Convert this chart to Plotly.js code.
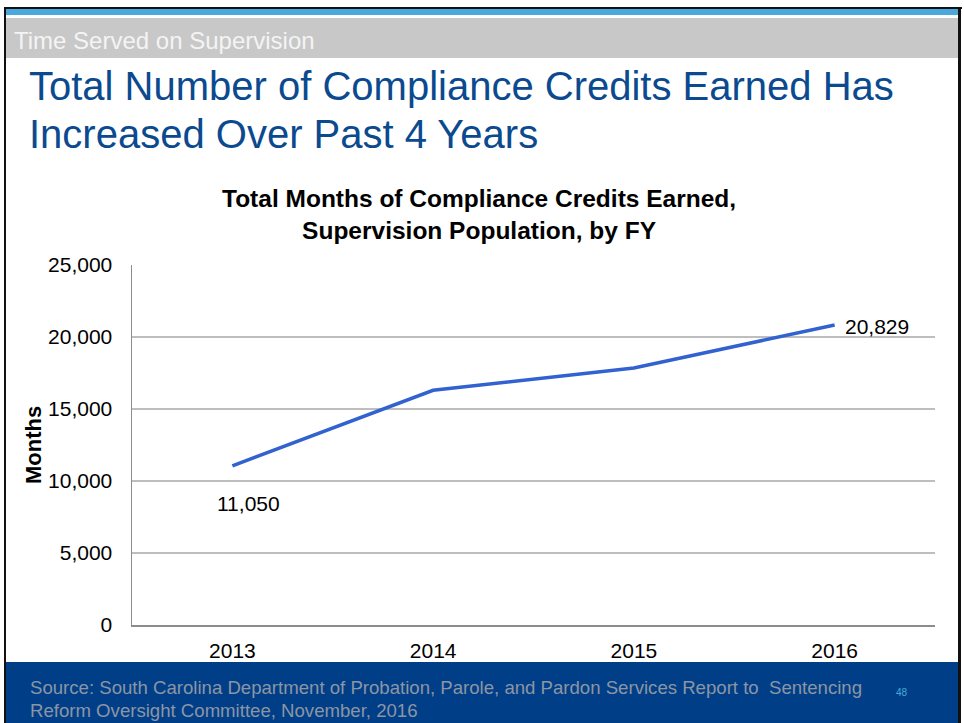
<!DOCTYPE html>
<html>
<head>
<meta charset="utf-8">
<script src="https://cdn.plot.ly/plotly-3.0.1.min.js"></script>
<style>
  html, body { margin: 0; padding: 0; background: #ffffff; }
  #slide { position: relative; width: 964px; height: 723px; overflow: hidden; background: #ffffff;
           font-family: "Liberation Sans", Arial, sans-serif; }
  .abs { position: absolute; }
  #chart { position: absolute; left: 0; top: 0; width: 964px; height: 723px; z-index: 2; }
</style>
</head>
<body>
<div id="slide">
  <div class="abs" style="left:4px; top:7px; width:958px; height:2px; background:#111;"></div>
  <div class="abs" style="left:4px; top:7px; width:2px; height:716px; background:#111;"></div>
  <div class="abs" style="left:958px; top:7px; width:3px; height:716px; background:#111;"></div>
  <div class="abs" style="left:6px; top:9px; width:952px; height:6px; background:#4AA8DC;"></div>
  <div class="abs" style="left:6px; top:18px; width:952px; height:40px; background:#C8C8C8;"></div>
  <div class="abs" style="left:14px; top:27px; font-size:24px; line-height:28px; color:#F4F4F4; white-space:nowrap;">Time Served on Supervision</div>
  <div class="abs" style="left:29px; top:62px; font-size:40px; line-height:48px; color:#0B4A8F; white-space:nowrap;">Total Number of Compliance Credits Earned Has<br>Increased Over Past 4 Years</div>
  <div class="abs" style="left:6px; top:662px; width:952px; height:61px; background:#003F87;"></div>
  <div class="abs" style="left:30px; top:676px; font-size:18.6px; line-height:23px; color:#8C95A5; white-space:nowrap;">Source: South Carolina Department of Probation, Parole, and Pardon Services Report to&nbsp; Sentencing<br>Reform Oversight Committee, November, 2016</div>
  <div class="abs" style="left:896px; top:687px; font-size:10px; line-height:12px; color:#4AA8DC;">48</div>
  <div id="chart"></div>
</div>
<script>
const years = ['2013', '2014', '2015', '2016'];
const months = [11050, 16300, 17850, 20829];
const yTicks = [0, 5000, 10000, 15000, 20000, 25000];
const chartTitleLines = ['Total Months of Compliance Credits Earned,', 'Supervision Population, by FY'];
const yTitle = 'Months';
const labelledPoints = [0, 3];

const font = '"Liberation Sans", Arial, sans-serif';
const fmt = v => v.toLocaleString('en-US');

const trace = {
  x: years, y: months, type: 'scatter', mode: 'lines',
  line: { color: '#3262D0', width: 3.5 },
  hoverinfo: 'skip'
};

const annotations = [
  { text: chartTitleLines.map(s => '<b>' + s + '</b>').join('<br>'),
    xref: 'paper', yref: 'paper', x: 0.432, y: 1.139,
    xanchor: 'center', yanchor: 'middle', showarrow: false,
    font: { family: font, size: 24.5, color: '#000' } },
  { text: '<b>' + yTitle + '</b>', xref: 'paper', yref: 'paper', x: (33 - 132) / 803, y: 0.5,
    xanchor: 'center', yanchor: 'middle', textangle: -90, showarrow: false,
    font: { family: font, size: 22, color: '#000' } }
];
labelledPoints.forEach(i => {
  const first = i === 0;
  annotations.push({
    text: fmt(months[i]), x: i, y: months[i], xref: 'x', yref: 'y',
    showarrow: false,
    xanchor: first ? 'center' : 'left', yanchor: 'middle',
    xshift: first ? 16 : 8, yshift: first ? -38 : -1,
    font: { family: font, size: 21, color: '#000' }
  });
});

const layout = {
  width: 964, height: 723,
  margin: { l: 132, r: 29, t: 265, b: 98, pad: 0 },
  paper_bgcolor: 'rgba(0,0,0,0)', plot_bgcolor: 'rgba(0,0,0,0)',
  showlegend: false,
  font: { family: font, size: 21, color: '#000' },
  xaxis: {
    type: 'category', categoryorder: 'array', categoryarray: years,
    range: [-0.5, 3.5], showgrid: false, zeroline: false,
    showline: true, linecolor: '#8C8C8C', linewidth: 1.5,
    ticks: '', ticklabelstandoff: 6,
    tickfont: { family: font, size: 21, color: '#000' }
  },
  yaxis: {
    range: [0, 25000], tickvals: yTicks, ticktext: yTicks.map(fmt),
    showgrid: true, gridcolor: '#BEBEBE', gridwidth: 1.2, zeroline: false,
    showline: true, linecolor: '#8C8C8C', linewidth: 1.5,
    ticks: '', ticklabelstandoff: 14,
    tickfont: { family: font, size: 21, color: '#000' }
  },
  annotations: annotations
};

Plotly.newPlot('chart', [trace], layout, { displayModeBar: false, staticPlot: true });
</script>
</body>
</html>
